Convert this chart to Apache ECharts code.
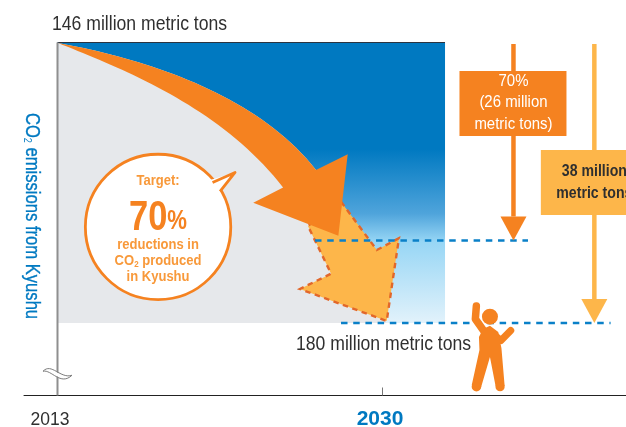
<!DOCTYPE html>
<html>
<head>
<meta charset="utf-8">
<style>html,body{margin:0;padding:0;background:#fff}#chart{width:626px;height:427px}</style>
<script src="https://cdn.jsdelivr.net/npm/echarts@6/dist/echarts.min.js"></script>
</head>
<body>
<div id="chart"></div>
<script>
// Axis scale and stated levels (million metric tons)
const years = [2013, 2030];
const startLevel = 146;
const targetLevel = 170;
const finalLevel = 180;
const regionEndYear = 2033.27;
const axisYears = [2011.248, 2042.736];
const axisLevels = [146, 188.79];

// Dashed guide lines and the two reduction arrows
const targetGuide = [[2026.47, targetLevel], [2037.61, targetLevel]];
const finalGuide = [[2027.83, finalLevel], [2041.93, finalLevel]];
const reductionArrowYear = 2036.85;
const totalArrowYear = 2041.08;

// Curved arrow outline: cubic control points for each edge, then the head
const arrowUpperEdge = [[2013.03, 146.06], [2017.32, 147.88], [2023.33, 152.0], [2026.52, 161.45]];
const arrowLowerEdge = [[2024.8, 163.58], [2021.5, 153.7], [2016.27, 149.09], [2013.03, 146.06]];
const arrowHead = [[2028.18, 159.55], [2027.69, 169.42], [2023.24, 165.42]];
// Lighter continuation of the arrow, ending on the final level
const lightArrow = [[2027.83, 165.3], [2029.7, 171.15], [2030.86, 169.73], [2030.22, 179.76], [2025.68, 175.88], [2027.31, 174.02], [2026.1, 168.24]];

const FONT = '"Liberation Sans",sans-serif';
const BLUE = '#0079c1', ORANGE = '#f58220', LIGHT = '#fdb64a', INK = '#2f2f2f', SOFT = '#f8993a';

function cubic(p, steps) {
  const out = [];
  for (let i = 0; i <= steps; i++) {
    const t = i / steps, u = 1 - t;
    const a = u * u * u, b = 3 * u * u * t, d = 3 * u * t * t, e = t * t * t;
    out.push([a * p[0][0] + b * p[1][0] + d * p[2][0] + e * p[3][0],
              a * p[0][1] + b * p[1][1] + d * p[2][1] + e * p[3][1]]);
  }
  return out;
}
const curvedArrow = () => cubic(arrowUpperEdge, 40).concat(arrowHead, cubic(arrowLowerEdge, 40));

// Condensed lettering: the regular face squeezed horizontally
function text(str, x, y, size, fill, opts) {
  const o = Object.assign({ squeeze: 0.88, align: 'center', weight: 'normal', rotation: 0, rich: null }, opts || {});
  const style = { text: str, x: 0, y: 0, fill, font: o.weight + ' ' + size + 'px ' + FONT, align: o.align, verticalAlign: 'middle' };
  if (o.rich) style.rich = o.rich;
  return { type: 'text', x, y, scaleX: o.squeeze, rotation: o.rotation, style };
}
function co2(size, subSize, color, weight) {
  return {
    t: { fontFamily: FONT, fontWeight: weight, fontSize: size, fill: color },
    s: { fontFamily: FONT, fontWeight: weight, fontSize: subSize, fill: color, verticalAlign: 'bottom' }
  };
}

// Each layer is a custom series, so its shapes stay on the chart's own scales
function layer(z, draw) {
  return { type: 'custom', z, silent: true, coordinateSystem: 'cartesian2d', clip: false, data: [[years[0], startLevel]],
    renderItem: (params, api) => ({ type: 'group', children: draw(p => api.coord(p)) }) };
}

const background = c => {
  const tl = c([years[0], startLevel]), br = c([regionEndYear, finalLevel]);
  const grayEdge = cubic(arrowUpperEdge, 40).concat([arrowHead[1], [2030.22, finalLevel], [years[0], finalLevel]]);
  return [
    { type: 'rect', shape: { x: tl[0], y: tl[1], width: br[0] - tl[0], height: br[1] - tl[1] },
      style: { fill: new echarts.graphic.LinearGradient(0, 0, 0, 1, [
        { offset: 0, color: BLUE }, { offset: 0.38, color: BLUE }, { offset: 0.61, color: '#4fa4db' },
        { offset: 0.71, color: '#97d6f5' }, { offset: 1, color: '#e2f2fb' }]) } },
    { type: 'polygon', shape: { points: grayEdge.map(c) }, style: { fill: '#e6e8eb' } },
    // top rule and vertical axis
    { type: 'line', shape: { x1: tl[0], y1: tl[1], x2: br[0], y2: tl[1] }, style: { stroke: '#2b3440', lineWidth: 1 } },
    { type: 'line', shape: { x1: tl[0], y1: tl[1], x2: tl[0], y2: c([years[0], axisLevels[1]])[1] }, style: { stroke: '#8f8f8f', lineWidth: 2 } }
  ];
};

const arrows = c => [
  { type: 'polygon', shape: { points: lightArrow.map(c) }, style: { fill: LIGHT, stroke: '#e2672a', lineWidth: 2.4, lineDash: [5.5, 4.5] } },
  { type: 'polygon', shape: { points: curvedArrow().map(c) }, style: { fill: ORANGE } }
];

// Vertical arrow dropping from the top level to a target level
function dropArrow(c, year, level, color, head) {
  const top = c([year, startLevel]), tip = c([year, level]);
  return [
    { type: 'line', shape: { x1: top[0], y1: top[1] + 1.5, x2: top[0], y2: tip[1] - head }, style: { stroke: color, lineWidth: 4.5 } },
    { type: 'polygon', shape: { points: [[top[0] - 13, tip[1] - head], [top[0] + 13, tip[1] - head], [top[0], tip[1]]] }, style: { fill: color } }
  ];
}

const callouts = c => {
  const dark = c([reductionArrowYear, startLevel])[0], light = c([totalArrowYear, startLevel])[0];
  const top = c([years[0], startLevel])[1];
  const heavy = { weight: 'bold', squeeze: 0.83 };
  return [
    ...dropArrow(c, reductionArrowYear, targetLevel, ORANGE, 24),
    ...dropArrow(c, totalArrowYear, finalLevel, LIGHT, 24),
    { type: 'rect', shape: { x: dark - 54, y: top + 28.5, width: 107, height: 65 }, style: { fill: ORANGE } },
    text('70%', dark, top + 39, 17, '#fff'),
    text('(26 million', dark, top + 60, 17, '#fff'),
    text('metric tons)', dark, top + 81.5, 17, '#fff'),
    { type: 'rect', shape: { x: light - 53.5, y: top + 107.5, width: 110, height: 65 }, style: { fill: LIGHT } },
    text('38 million', light, top + 129, 17, INK, heavy),
    text('metric tons', light, top + 151, 17, INK, heavy)
  ];
};

const bubble = c => {
  const o = c([2018.26, 168.36]);
  const x = o[0], y = o[1];
  const soft = { weight: 'bold', squeeze: 0.84 };
  return [
    { type: 'circle', shape: { cx: x, cy: y, r: 72.7 }, style: { fill: '#fff', stroke: ORANGE, lineWidth: 2.8 } },
    { type: 'polygon', shape: { points: [[x + 52, y - 47], [x + 77, y - 54.5], [x + 60, y - 33]] }, style: { fill: '#fff' } },
    { type: 'polyline', shape: { points: [[x + 54.5, y - 44.5], [x + 77, y - 54.5], [x + 62, y - 35.5]] },
      style: { fill: 'none', stroke: ORANGE, lineWidth: 2.8, lineJoin: 'round' } },
    text('Target:', x, y - 46, 15.5, SOFT, soft),
    text('{a|70}{b|%}', x, y - 9, 42, ORANGE, { weight: 'bold', squeeze: 0.82, rich: {
      a: { fontFamily: FONT, fontWeight: 'bold', fontSize: 42, fill: ORANGE },
      b: { fontFamily: FONT, fontWeight: 'bold', fontSize: 27, fill: ORANGE, verticalAlign: 'bottom', padding: [0, 0, 4, 0] } } }),
    text('reductions in', x, y + 18, 15.5, SOFT, soft),
    text('{t|CO}{s|2}{t| produced}', x, y + 34, 15.5, SOFT, { weight: 'bold', squeeze: 0.84, rich: co2(15.5, 9.5, SOFT, 'bold') }),
    text('in Kyushu', x, y + 50, 15.5, SOFT, soft)
  ];
};

const person = c => {
  const a = c([2035.62, finalLevel]);
  const P = pts => pts.map(p => [a[0] + p[0], a[1] + p[1]]);
  const dot = (dx, dy, r) => ({ type: 'circle', shape: { cx: a[0] + dx, cy: a[1] + dy, r }, style: { fill: ORANGE } });
  const limb = (pts, w) => ({ type: 'polyline', shape: { points: P(pts) },
    style: { fill: 'none', stroke: ORANGE, lineWidth: w, lineCap: 'round', lineJoin: 'round' } });
  return [
    dot(0, -6.3, 8),
    limb([[-13.6, -17], [-14.6, -4], [-4, 11]], 7.5),
    limb([[20.8, 7.5], [11, 17.5], [6, 13]], 7),
    { type: 'polygon', shape: { points: P([[-7, 6], [0, 2.7], [8.3, 9], [11.5, 25.3], [14.7, 63], [5.6, 63], [0, 34], [-8.8, 64], [-18.2, 62], [-10.5, 27], [-11, 14]]) }, style: { fill: ORANGE } },
    dot(-13.5, 63.7, 4.8),
    dot(10.1, 63.7, 4.6)
  ];
};

const axisBreak = c => {
  const x = c([years[0], startLevel])[0], y = c([years[0], 185.85])[1];
  const wave = d => ({ x1: x - 14.5, y1: y, x2: x + 14.5, y2: y + 4, cpx1: x - 6, cpy1: y - 9 + d, cpx2: x + 3, cpy2: y + 8 + d });
  return [
    { type: 'bezierCurve', shape: wave(3.5), style: { stroke: '#fff', lineWidth: 3.4, fill: 'none' } },
    { type: 'bezierCurve', shape: wave(0), style: { stroke: '#7d7d7d', lineWidth: 1, fill: 'none' } },
    { type: 'bezierCurve', shape: wave(7), style: { stroke: '#7d7d7d', lineWidth: 1, fill: 'none' } }
  ];
};

const annotations = c => {
  const a = c([years[0], startLevel]), b = c([years[0], finalLevel]);
  const title = co2(20, 11, BLUE, 'normal');
  title.t.stroke = BLUE; title.t.lineWidth = 0.35;
  return [
    text(startLevel + ' million metric tons', a[0] - 5.5, a[1] - 18.5, 20, INK, { align: 'left' }),
    text(finalLevel + ' million metric tons', a[0] + 238.5, b[1] + 21, 20, INK, { align: 'left' }),
    text('{t|CO}{s|2}{t| emissions from Kyushu}', 32, 216, 20, BLUE, { rotation: -Math.PI / 2, squeeze: 0.83, rich: title })
  ];
};

function guide(points) {
  return { type: 'line', z: 5, silent: true, data: points, symbol: 'none', clip: false,
    lineStyle: { color: '#0a80c8', width: 2.7, type: [6.5, 5.7] }, animation: false };
}

const chart = echarts.init(document.getElementById('chart'), null, { renderer: 'canvas' });
chart.setOption({
  animation: false,
  backgroundColor: '#fff',
  grid: { left: 24, right: 0, top: 42.5, bottom: 31.5, outerBoundsMode: 'none' },
  xAxis: {
    type: 'value', min: axisYears[0], max: axisYears[1], splitLine: { show: false },
    axisLine: { lineStyle: { color: '#222', width: 1 } },
    axisTick: { show: true, inside: true, length: 8, customValues: [years[1]], lineStyle: { color: '#777', width: 1 } },
    axisLabel: {
      customValues: years, margin: 13,
      formatter: v => v === years[1] ? '{hi|' + v + '}' : '{lo|' + v + '}',
      rich: {
        hi: { fontFamily: FONT, fontWeight: 'bold', fontSize: 21, color: BLUE, padding: [0, 5, 0, 0] },
        lo: { fontFamily: FONT, fontSize: 17.5, color: INK, padding: [3, 15, 0, 0] }
      }
    }
  },
  yAxis: {
    type: 'value', inverse: true, min: axisLevels[0], max: axisLevels[1],
    splitLine: { show: false }, axisLine: { show: false }, axisTick: { show: false }, axisLabel: { show: false }
  },
  series: [
    layer(1, background),
    layer(2, arrows),
    guide(targetGuide),
    guide(finalGuide),
    layer(6, callouts),
    layer(7, bubble),
    layer(8, person),
    layer(9, axisBreak),
    layer(10, annotations)
  ]
});
</script>
</body>
</html>
